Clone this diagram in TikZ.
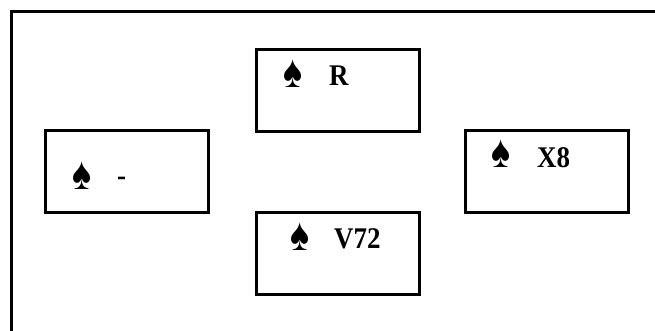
\documentclass[tikz,border=0pt]{standalone}
\usepackage{fontspec}
\setmainfont{Liberation Serif}
\begin{document}
\begin{tikzpicture}[x=1pt,y=-1pt,
  cardbox/.style={draw, line width=2.6pt, minimum width=163pt, minimum height=82pt, inner sep=0pt, anchor=north west},
  lbl/.style={font=\fontsize{30}{30}\selectfont\bfseries, anchor=base west, inner sep=0pt, xscale=0.9},
  spd/.style={font=\fontsize{46}{46}\selectfont, anchor=center, inner sep=0pt, xscale=0.78}]
\useasboundingbox (0,0) rectangle (655,330);
\coordinate (fbl) at (11,331);
\coordinate (ftr) at (656,11);
\draw[line width=3pt] (fbl) |- (ftr);
\node[cardbox] (north) at (255,48) {};
\node[cardbox] (west) at (44,129) {};
\node[cardbox] (east) at (464,129) {};
\node[cardbox] (south) at (255,211) {};
\node[spd] (ns) at (293,74) {♠};
\node[lbl] (nt) at (329,85) {R};
\node[spd] (ws) at (82,176) {♠};
\node[lbl] (wt) at (117,185) {-};
\node[spd] (es) at (501,154) {♠};
\node[lbl] (et) at (537,167) {X8};
\node[spd] (ss) at (300,237) {♠};
\node[lbl] (st) at (334,248) {V72};
\end{tikzpicture}
\end{document}
